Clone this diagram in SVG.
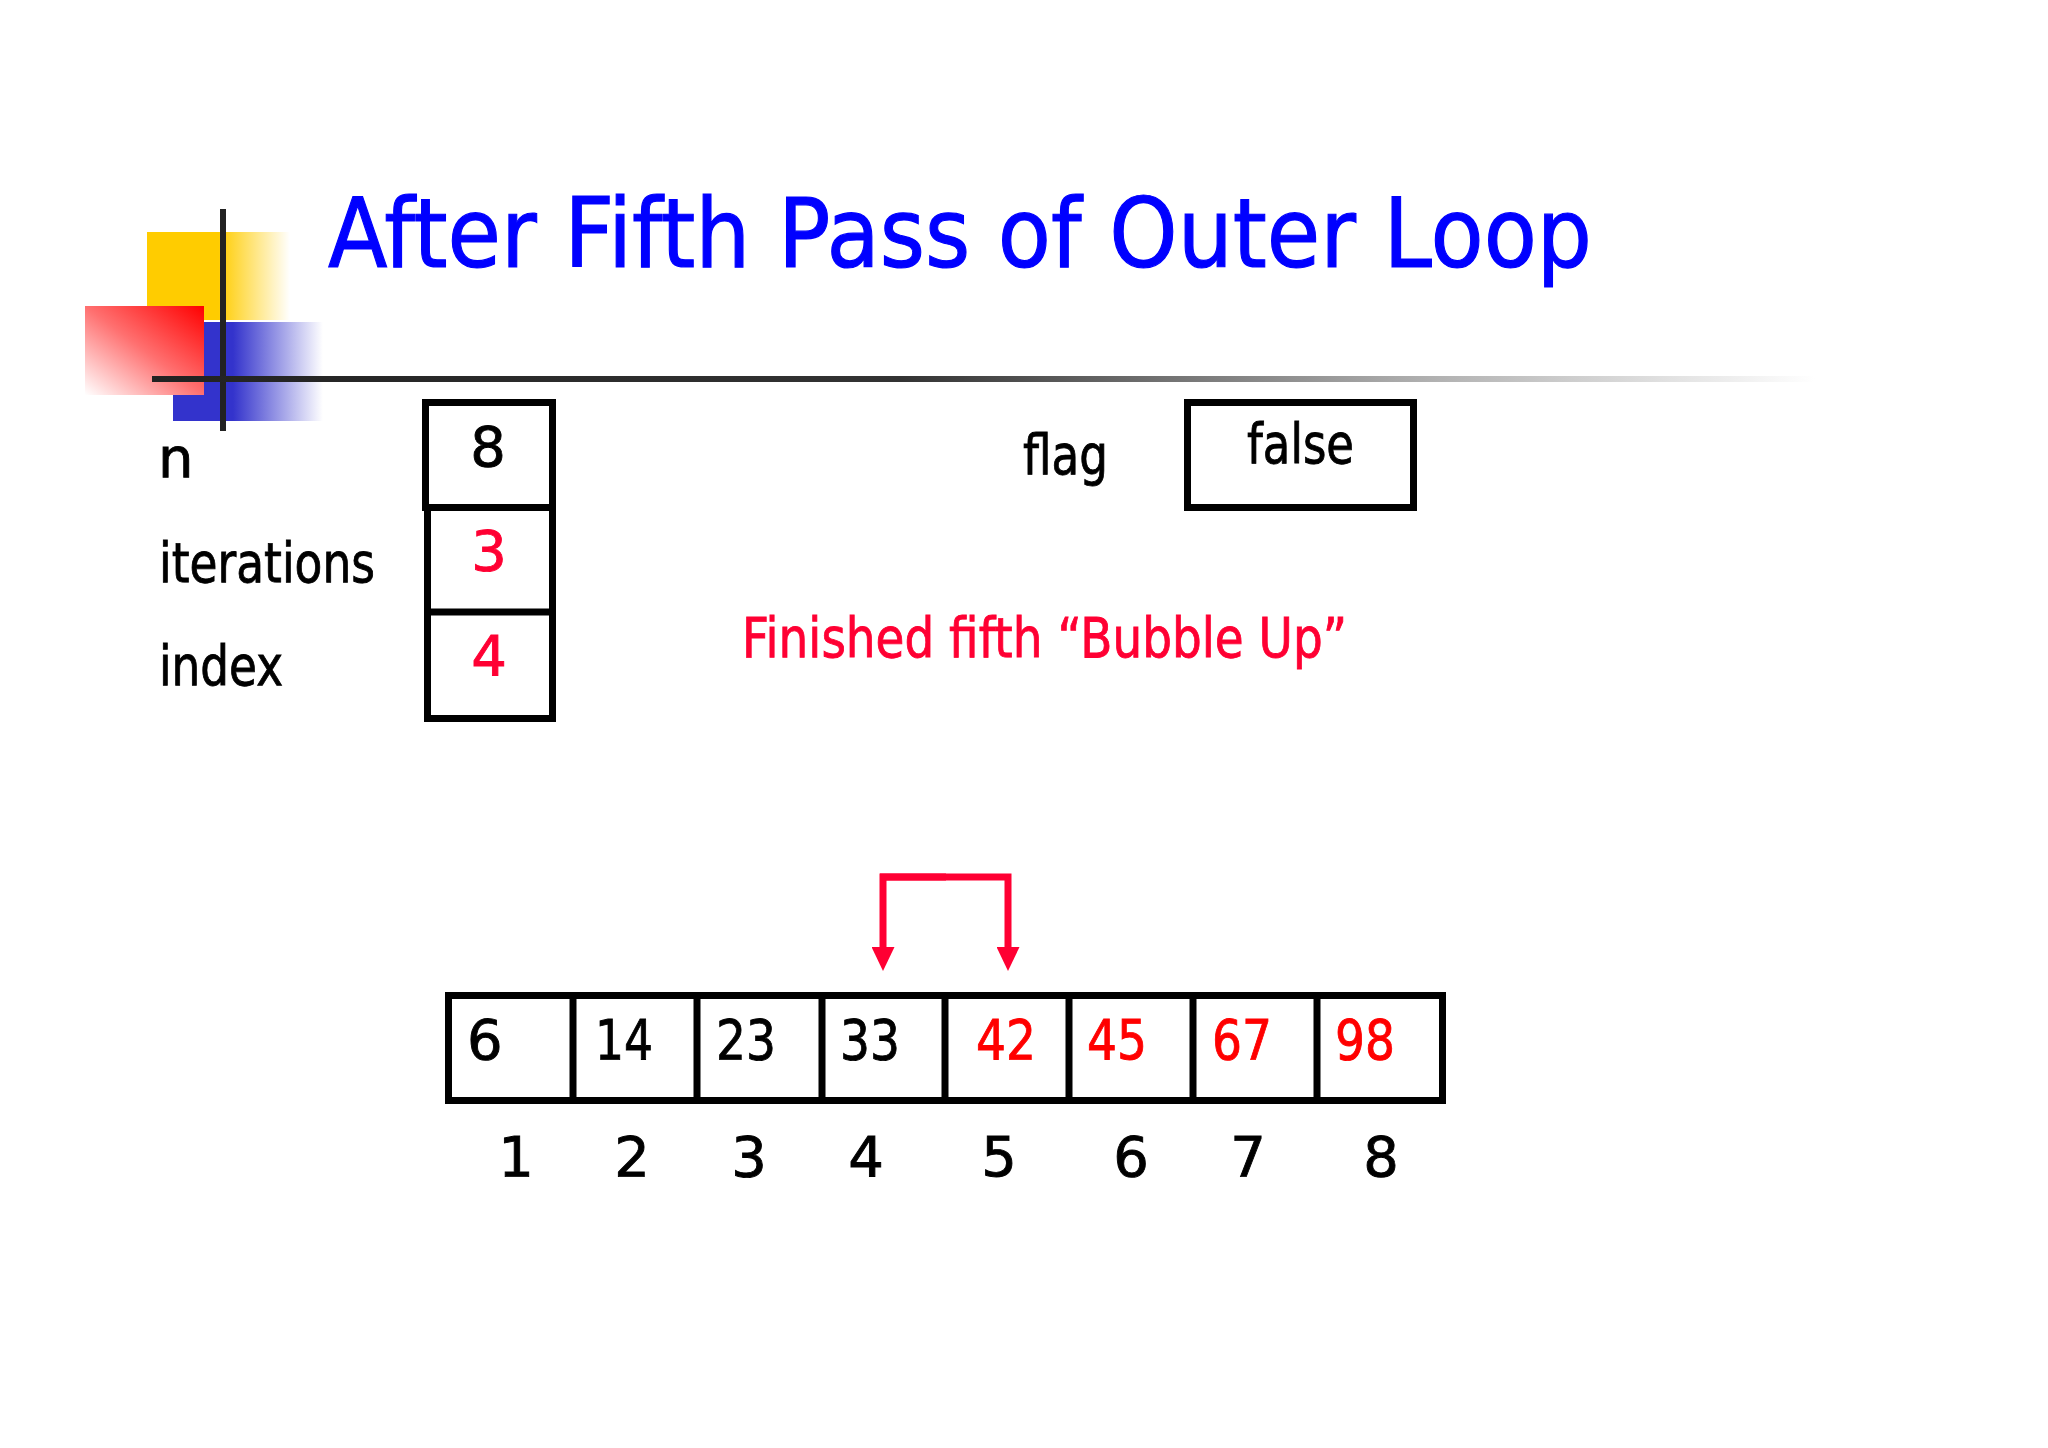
<svg xmlns="http://www.w3.org/2000/svg" width="2048" height="1448" viewBox="0 0 2048 1448">
  <style>
    .t { font-family: "DejaVu Sans", "Liberation Sans", sans-serif; font-size: 56px; fill: #000; stroke: #000; stroke-width: 0.9px; }
    .title { font-family: "DejaVu Sans", "Liberation Sans", sans-serif; font-size: 96px; fill: #0000FF; stroke: #0000FF; stroke-width: 1.2px; }
    .crim { fill: #FF0033; stroke: #FF0033; }
    .red { fill: #FF0000; stroke: #FF0000; }
    .mid { text-anchor: middle; }
    .box { fill: #fff; stroke: #000; stroke-width: 7; }
    .arrow { fill: none; stroke: #FF0033; stroke-width: 7; }
  </style>
  <defs>
    <linearGradient id="gY" x1="0" y1="0" x2="1" y2="0">
      <stop offset="0" stop-color="#FFCC00"/>
      <stop offset="0.5" stop-color="#FFCC00"/>
      <stop offset="1" stop-color="#FFCC00" stop-opacity="0"/>
    </linearGradient>
    <linearGradient id="gB" x1="0" y1="0" x2="1" y2="0">
      <stop offset="0" stop-color="#3333CC"/>
      <stop offset="0.4" stop-color="#3333CC"/>
      <stop offset="1" stop-color="#3333CC" stop-opacity="0"/>
    </linearGradient>
    <linearGradient id="gR" x1="1" y1="0" x2="0" y2="1">
      <stop offset="0" stop-color="#FF0000"/>
      <stop offset="0.5" stop-color="#FF7070"/>
      <stop offset="1" stop-color="#FFFFFF"/>
    </linearGradient>
    <linearGradient id="gL" gradientUnits="userSpaceOnUse" x1="152" y1="0" x2="1815" y2="0">
      <stop offset="0" stop-color="#222"/>
      <stop offset="0.45" stop-color="#333"/>
      <stop offset="0.75" stop-color="#aaa"/>
      <stop offset="1" stop-color="#fff"/>
    </linearGradient>
    <marker id="ah" markerUnits="userSpaceOnUse" viewBox="0 0 24 23" refX="0" refY="11.5" markerWidth="24" markerHeight="23" orient="auto">
      <path d="M0,0 L24,11.5 L0,23 Z" fill="#FF0033"/>
    </marker>
  </defs>
  <rect width="2048" height="1448" fill="#fff"/>

  <g id="decoration">
    <rect x="147" y="232" width="143" height="88" fill="url(#gY)"/>
    <rect x="173" y="322" width="150" height="99" fill="url(#gB)"/>
    <rect x="85" y="306" width="119" height="89" fill="url(#gR)"/>
    <rect x="220" y="209" width="6" height="222" fill="#222"/>
    <rect x="152" y="376" width="1663" height="6" fill="url(#gL)"/>
  </g>

  <g id="title">
    <text class="title" x="328" y="267" textLength="1264" lengthAdjust="spacingAndGlyphs">After Fifth Pass of Outer Loop</text>
  </g>

  <g id="labels">
    <text class="t" x="158" y="477">n</text>
    <text class="t" x="159" y="582" textLength="216" lengthAdjust="spacingAndGlyphs">iterations</text>
    <text class="t" x="159" y="685" textLength="124" lengthAdjust="spacingAndGlyphs">index</text>
    <text class="t" x="1023" y="474" textLength="85" lengthAdjust="spacingAndGlyphs">flag</text>
  </g>

  <g id="node-n">
    <rect class="box" x="425.5" y="402.5" width="127" height="105"/>
    <text class="t mid" x="488" y="466">8</text>
  </g>
  <g id="node-iterations">
    <rect class="box" x="427.5" y="507.5" width="125" height="105"/>
    <text class="t mid crim" x="489" y="570">3</text>
  </g>
  <g id="node-index">
    <rect class="box" x="427.5" y="612" width="125" height="106.5"/>
    <text class="t mid crim" x="489" y="675">4</text>
  </g>
  <g id="node-flag">
    <rect class="box" x="1187.5" y="402.5" width="226" height="105"/>
    <text class="t" x="1247" y="463" textLength="107" lengthAdjust="spacingAndGlyphs">false</text>
  </g>

  <g id="message">
    <text class="t crim" x="742" y="657" textLength="605" lengthAdjust="spacingAndGlyphs">Finished fifth “Bubble Up”</text>
  </g>

  <g id="array">
    <rect class="box" x="448.5" y="995.5" width="994" height="105"/>
    <path d="M573,995 V1101 M697,995 V1101 M822,995 V1101 M945,995 V1101 M1069,995 V1101 M1193,995 V1101 M1317,995 V1101" stroke="#000" stroke-width="7"/>
    <text class="t" x="467" y="1059">6</text>
    <text class="t" x="595" y="1059" textLength="58" lengthAdjust="spacingAndGlyphs">14</text>
    <text class="t" x="716" y="1059" textLength="60" lengthAdjust="spacingAndGlyphs">23</text>
    <text class="t" x="840" y="1059" textLength="60" lengthAdjust="spacingAndGlyphs">33</text>
    <text class="t red" x="976" y="1059" textLength="60" lengthAdjust="spacingAndGlyphs">42</text>
    <text class="t red" x="1087" y="1059" textLength="60" lengthAdjust="spacingAndGlyphs">45</text>
    <text class="t red" x="1212" y="1059" textLength="60" lengthAdjust="spacingAndGlyphs">67</text>
    <text class="t red" x="1335" y="1059" textLength="60" lengthAdjust="spacingAndGlyphs">98</text>
  </g>

  <g id="indices">
    <text class="t mid" x="516" y="1176">1</text>
    <text class="t mid" x="632" y="1176">2</text>
    <text class="t mid" x="749" y="1176">3</text>
    <text class="t mid" x="866" y="1176">4</text>
    <text class="t mid" x="999" y="1176">5</text>
    <text class="t mid" x="1131" y="1176">6</text>
    <text class="t mid" x="1248" y="1176">7</text>
    <text class="t mid" x="1381" y="1176">8</text>
  </g>

  <g id="connectors">
    <path class="arrow" d="M946,877 H883 V947" marker-end="url(#ah)"/>
    <path class="arrow" d="M880,877 H1008 V947" marker-end="url(#ah)"/>
  </g>
</svg>
